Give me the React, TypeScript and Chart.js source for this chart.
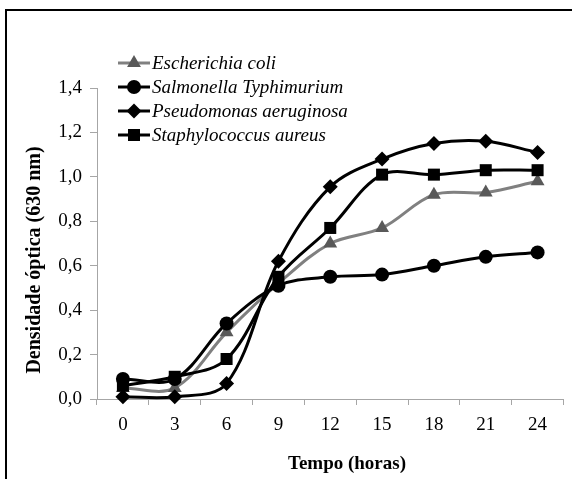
import React, { useEffect, useRef } from 'react';
import { Chart, registerables } from 'chart.js';

Chart.register(...registerables);

const hours = ['0', '3', '6', '9', '12', '15', '18', '21', '24'];
const ecoli = [0.05, 0.05, 0.3, 0.52, 0.7, 0.77, 0.92, 0.93, 0.98];
const salmonella = [0.09, 0.09, 0.34, 0.51, 0.55, 0.56, 0.6, 0.64, 0.66];
const pseudomonas = [0.01, 0.01, 0.07, 0.62, 0.955, 1.08, 1.15, 1.16, 1.11];
const staph = [0.06, 0.1, 0.18, 0.55, 0.77, 1.01, 1.01, 1.03, 1.03];
const seriesNames = [
  'Escherichia coli',
  'Salmonella Typhimurium',
  'Pseudomonas aeruginosa',
  'Staphylococcus aureus',
];
const xTitle = 'Tempo (horas)';
const yTitle = 'Densidade óptica (630 nm)';
const yMin = 0;
const yMax = 1.4;
const yStep = 0.2;

const SERIF = '"Liberation Serif", "Times New Roman", serif';

function drawMarker(ctx: CanvasRenderingContext2D, style: string, x: number, y: number, r: number, color: string) {
  ctx.save();
  ctx.fillStyle = color;
  ctx.beginPath();
  if (style === 'circle') {
    ctx.arc(x, y, r, 0, Math.PI * 2);
  } else if (style === 'triangle') {
    for (let k = 0; k < 3; k++) {
      const a = (k * 2 * Math.PI) / 3;
      const px = x + Math.sin(a) * r;
      const py = y - Math.cos(a) * r;
      if (k === 0) ctx.moveTo(px, py);
      else ctx.lineTo(px, py);
    }
    ctx.closePath();
  } else if (style === 'rectRot') {
    ctx.moveTo(x, y - r);
    ctx.lineTo(x + r, y);
    ctx.lineTo(x, y + r);
    ctx.lineTo(x - r, y);
    ctx.closePath();
  } else {
    const s = r * Math.SQRT1_2;
    ctx.rect(x - s, y - s, 2 * s, 2 * s);
  }
  ctx.fill();
  ctx.restore();
}

const overlayPlugin = {
  id: 'overlay',
  afterDraw(chart: any) {
    const ctx: CanvasRenderingContext2D = chart.ctx;
    const area = chart.chartArea;
    ctx.save();
    // legend inside plot area
    const lx0 = area.left + 21;
    const lx1 = area.left + 53;
    const ly0 = area.top - 25;
    chart.data.datasets.forEach((ds: any, i: number) => {
      const y = ly0 + i * 24;
      ctx.strokeStyle = ds.borderColor;
      ctx.lineWidth = 3;
      ctx.beginPath();
      ctx.moveTo(lx0, y);
      ctx.lineTo(lx1, y);
      ctx.stroke();
      drawMarker(ctx, ds.pointStyle, (lx0 + lx1) / 2, y, ds.pointRadius, ds.pointBackgroundColor);
      ctx.fillStyle = '#000';
      ctx.font = 'italic 19px ' + SERIF;
      ctx.textAlign = 'left';
      ctx.textBaseline = 'middle';
      ctx.fillText(ds.label, lx1 + 2, y + 1);
    });
    // axis titles
    ctx.fillStyle = '#000';
    ctx.font = 'bold 19px ' + SERIF;
    ctx.textAlign = 'center';
    ctx.textBaseline = 'middle';
    ctx.fillText(xTitle, 347, 464);
    ctx.font = 'bold 20px ' + SERIF;
    ctx.translate(35, 260);
    ctx.rotate(-Math.PI / 2);
    ctx.fillText(yTitle, 0, 0);
    ctx.restore();
  },
};

export default function App() {
  const ref = useRef<HTMLCanvasElement>(null);
  useEffect(() => {
    const chart = new Chart(ref.current as HTMLCanvasElement, {
      type: 'line',
      data: {
        labels: hours,
        datasets: [
          {
            label: seriesNames[0],
            data: ecoli,
            borderColor: '#808080',
            backgroundColor: '#595959',
            pointBackgroundColor: '#595959',
            pointBorderColor: '#595959',
            pointStyle: 'triangle',
            pointRadius: 8,
            pointBorderWidth: 0,
            borderWidth: 3,
            tension: 0.35,
            clip: false,
            order: 4,
          },
          {
            label: seriesNames[1],
            data: salmonella,
            borderColor: '#000',
            backgroundColor: '#000',
            pointBackgroundColor: '#000',
            pointBorderColor: '#000',
            pointStyle: 'circle',
            pointRadius: 7,
            pointBorderWidth: 0,
            borderWidth: 3,
            tension: 0.35,
            clip: false,
            order: 3,
          },
          {
            label: seriesNames[2],
            data: pseudomonas,
            borderColor: '#000',
            backgroundColor: '#000',
            pointBackgroundColor: '#000',
            pointBorderColor: '#000',
            pointStyle: 'rectRot',
            pointRadius: 7.5,
            pointBorderWidth: 0,
            borderWidth: 3,
            tension: 0.35,
            clip: false,
            order: 2,
          },
          {
            label: seriesNames[3],
            data: staph,
            borderColor: '#000',
            backgroundColor: '#000',
            pointBackgroundColor: '#000',
            pointBorderColor: '#000',
            pointStyle: 'rect',
            pointRadius: 8.5,
            pointBorderWidth: 0,
            borderWidth: 3,
            tension: 0.35,
            clip: false,
            order: 1,
          },
        ] as any,
      },
      options: {
        responsive: false,
        animation: false,
        layout: { padding: { top: 88, right: 7, left: 0, bottom: 0 } },
        plugins: {
          legend: { display: false },
          tooltip: { enabled: false },
          title: { display: false },
        },
        scales: {
          x: {
            type: 'category',
            offset: true,
            grid: { offset: true, drawOnChartArea: false, drawTicks: true, tickLength: 6, color: '#a6a6a6' },
            border: { color: '#a6a6a6', width: 1 },
            ticks: { color: '#000', font: { family: SERIF, size: 19 }, padding: 9, maxRotation: 0 },
            afterFit: (s: any) => {
              s.height = 80;
            },
          },
          y: {
            min: yMin,
            max: yMax,
            grid: { drawOnChartArea: false, drawTicks: true, tickLength: 7, color: '#a6a6a6' },
            border: { color: '#a6a6a6', width: 1 },
            ticks: {
              stepSize: yStep,
              color: '#000',
              font: { family: SERIF, size: 19 },
              padding: 8,
              callback: (v: any) => Number(v).toFixed(1).replace('.', ','),
            },
            afterFit: (s: any) => {
              s.width = 97;
            },
          },
        },
      } as any,
      plugins: [overlayPlugin],
    });
    return () => chart.destroy();
  }, []);

  return (
    <div style={{ position: 'fixed', left: 0, top: 0, width: 572, height: 479, background: '#fff', overflow: 'hidden' }}>
      <div
        style={{
          position: 'absolute',
          left: 5,
          top: 9,
          width: 700,
          height: 700,
          borderTop: '2px solid #000',
          borderLeft: '2px solid #000',
        }}
      />
      <canvas ref={ref} width={572} height={479} style={{ position: 'absolute', left: 0, top: 0 }} />
    </div>
  );
}
